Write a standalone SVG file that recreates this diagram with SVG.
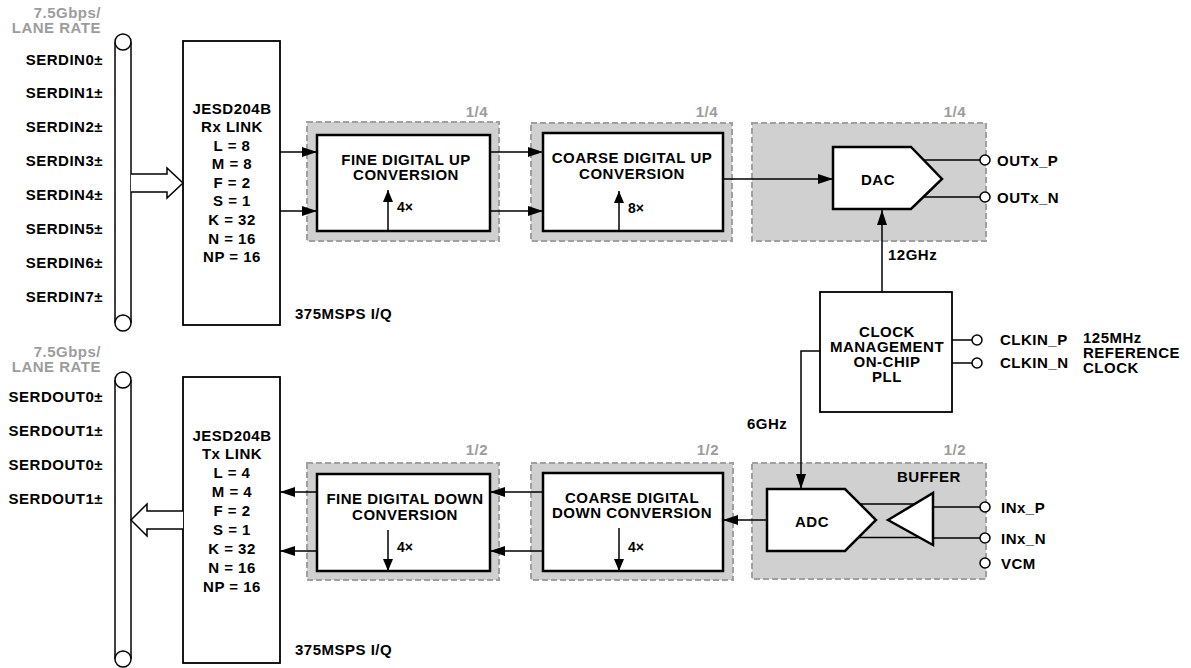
<svg xmlns="http://www.w3.org/2000/svg" width="1191" height="668" viewBox="0 0 1191 668">
<style>
.t{font-family:"Liberation Sans",Arial,sans-serif;font-weight:bold;font-size:15px;letter-spacing:0.5px;fill:#000}
.c{text-anchor:middle}
.e{text-anchor:end}
.g{fill:#9c9c9c}
.s{font-size:14px;letter-spacing:0}
.gb{fill:#d0d0d0;stroke:#a0a0a0;stroke-width:2;stroke-dasharray:6 3}
.wb{fill:#fff;stroke:#000;stroke-width:2.5}
.jb{fill:#fff;stroke:#000;stroke-width:1.8}
.ln{fill:none;stroke:#000;stroke-width:1.5}
.tm{fill:#fff;stroke:#000;stroke-width:1.5}
</style>
<defs>
<marker id="ah" markerWidth="15" markerHeight="10" refX="15" refY="5" orient="auto" markerUnits="userSpaceOnUse"><path d="M0,0 L15,5 L0,10 z" fill="#000"/></marker>
<marker id="ahs" markerWidth="12" markerHeight="10" refX="12" refY="5" orient="auto" markerUnits="userSpaceOnUse"><path d="M0,0 L12,5 L0,10 z" fill="#000"/></marker>
</defs>
<rect width="1191" height="668" fill="#fff"/>

<g id="rx-bus">
<text class="t g e" x="101" y="17.5">7.5Gbps/</text>
<text class="t g e" x="101" y="32.5">LANE RATE</text>
<line class="ln" x1="115" y1="42" x2="115" y2="323"/>
<line class="ln" x1="131" y1="42" x2="131" y2="323"/>
<circle class="tm" cx="123" cy="42" r="8"/>
<circle class="tm" cx="123" cy="323" r="8"/>
<text class="t e" x="103" y="64.5">SERDIN0±</text>
<text class="t e" x="103" y="98.4">SERDIN1±</text>
<text class="t e" x="103" y="132.3">SERDIN2±</text>
<text class="t e" x="103" y="166.2">SERDIN3±</text>
<text class="t e" x="103" y="200">SERDIN4±</text>
<text class="t e" x="103" y="234">SERDIN5±</text>
<text class="t e" x="103" y="268">SERDIN6±</text>
<text class="t e" x="103" y="302">SERDIN7±</text>
</g>

<g id="jesd-rx">
<rect class="jb" x="183" y="41" width="97" height="284"/>
<text class="t c" x="232" y="113.5">JESD204B</text>
<text class="t c" x="232" y="132">Rx LINK</text>
<text class="t c" x="232" y="150.6">L = 8</text>
<text class="t c" x="232" y="169.2">M = 8</text>
<text class="t c" x="232" y="187.8">F = 2</text>
<text class="t c" x="232" y="206.4">S = 1</text>
<text class="t c" x="232" y="225">K = 32</text>
<text class="t c" x="232" y="243.6">N = 16</text>
<text class="t c" x="232" y="262.2">NP = 16</text>
<text class="t" x="295" y="319">375MSPS I/Q</text>
</g>

<g id="fduc">
<rect class="gb" x="307" y="122" width="192" height="119"/>
<text class="t g e" x="488" y="117">1/4</text>
<rect class="wb" x="317" y="135" width="173" height="96"/>
<text class="t c" x="406" y="164.5">FINE DIGITAL UP</text>
<text class="t c" x="406" y="179.5">CONVERSION</text>
<line class="ln" x1="388" y1="231" x2="388" y2="190" marker-end="url(#ahs)"/>
<text class="t s" x="397" y="212">4×</text>
</g>

<g id="cduc">
<rect class="gb" x="531" y="123" width="201" height="118"/>
<text class="t g e" x="718" y="117">1/4</text>
<rect class="wb" x="543" y="133" width="180" height="98"/>
<text class="t c" x="632" y="163">COARSE DIGITAL UP</text>
<text class="t c" x="632" y="178.5">CONVERSION</text>
<line class="ln" x1="619" y1="231" x2="619" y2="191" marker-end="url(#ahs)"/>
<text class="t s" x="628" y="212.5">8×</text>
</g>

<g id="dac">
<rect class="gb" x="752" y="123" width="234" height="118"/>
<text class="t g e" x="966" y="117">1/4</text>
<polygon class="wb" stroke-width="2" points="833,147 911,147 942,179 911,209 833,209"/>
<text class="t c" x="878" y="185">DAC</text>
<circle class="tm" cx="985" cy="160" r="5"/>
<circle class="tm" cx="985" cy="197" r="5"/>
<text class="t" x="997" y="165.5">OUTx_P</text>
<text class="t" x="997" y="202.5">OUTx_N</text>
</g>

<g id="clock">
<rect class="jb" x="820" y="292" width="132" height="120"/>
<text class="t c" x="887" y="337">CLOCK</text>
<text class="t c" x="887" y="352">MANAGEMENT</text>
<text class="t c" x="887" y="367">ON-CHIP</text>
<text class="t c" x="887" y="382">PLL</text>
<circle class="tm" cx="977" cy="340" r="5"/>
<circle class="tm" cx="977" cy="363" r="5"/>
<text class="t" x="1000" y="345">CLKIN_P</text>
<text class="t" x="1000" y="368">CLKIN_N</text>
<text class="t" x="1083" y="342.5">125MHz</text>
<text class="t" x="1083" y="357.5">REFERENCE</text>
<text class="t" x="1083" y="373">CLOCK</text>
</g>

<g id="adc">
<rect class="gb" x="752" y="463" width="234" height="116"/>
<text class="t g e" x="966" y="455">1/2</text>
<text class="t" x="897" y="481.5">BUFFER</text>
<line class="ln" stroke-width="2" x1="855" y1="504" x2="933" y2="504"/>
<line class="ln" stroke-width="2" x1="855" y1="537.5" x2="933" y2="537.5"/>
<polygon class="wb" stroke-width="2" points="767,489 845,489 876,520 845,551 767,551"/>
<text class="t c" x="812" y="527">ADC</text>
<polygon class="wb" stroke-width="2" points="888,520 933,493 933,545"/>
<circle class="tm" cx="985" cy="507" r="5"/>
<circle class="tm" cx="985" cy="538" r="5"/>
<circle class="tm" cx="985" cy="563" r="5"/>
<text class="t" x="1001" y="513">INx_P</text>
<text class="t" x="1001" y="543.5">INx_N</text>
<text class="t" x="1001" y="569">VCM</text>
</g>

<g id="cddc">
<rect class="gb" x="531" y="463" width="202" height="117"/>
<text class="t g e" x="719" y="455">1/2</text>
<rect class="wb" x="543" y="473" width="180" height="98"/>
<text class="t c" x="632" y="502.5">COARSE DIGITAL</text>
<text class="t c" x="632" y="518">DOWN CONVERSION</text>
<line class="ln" x1="619" y1="528" x2="619" y2="571" marker-end="url(#ahs)"/>
<text class="t s" x="628" y="552">4×</text>
</g>

<g id="fddc">
<rect class="gb" x="307" y="463" width="192" height="117"/>
<text class="t g e" x="488" y="455">1/2</text>
<rect class="wb" x="317" y="474" width="173" height="97"/>
<text class="t c" x="405" y="504">FINE DIGITAL DOWN</text>
<text class="t c" x="405" y="520">CONVERSION</text>
<line class="ln" x1="388" y1="530" x2="388" y2="571" marker-end="url(#ahs)"/>
<text class="t s" x="397" y="552">4×</text>
</g>

<g id="jesd-tx">
<rect class="jb" x="183" y="377" width="97" height="286"/>
<text class="t c" x="232" y="440.5">JESD204B</text>
<text class="t c" x="232" y="459.4">Tx LINK</text>
<text class="t c" x="232" y="478.3">L = 4</text>
<text class="t c" x="232" y="497.2">M = 4</text>
<text class="t c" x="232" y="516.1">F = 2</text>
<text class="t c" x="232" y="535">S = 1</text>
<text class="t c" x="232" y="553.9">K = 32</text>
<text class="t c" x="232" y="572.8">N = 16</text>
<text class="t c" x="232" y="591.7">NP = 16</text>
<text class="t" x="295" y="655">375MSPS I/Q</text>
</g>

<g id="tx-bus">
<text class="t g e" x="101" y="356.5">7.5Gbps/</text>
<text class="t g e" x="101" y="371.5">LANE RATE</text>
<line class="ln" x1="115" y1="380" x2="115" y2="659"/>
<line class="ln" x1="131" y1="380" x2="131" y2="659"/>
<circle class="tm" cx="123" cy="380" r="8"/>
<circle class="tm" cx="123" cy="659" r="8"/>
<text class="t e" x="103" y="402">SERDOUT0±</text>
<text class="t e" x="103" y="436">SERDOUT1±</text>
<text class="t e" x="103" y="470">SERDOUT0±</text>
<text class="t e" x="103" y="504">SERDOUT1±</text>
</g>

<g id="connectors">
<path class="tm" d="M131,174 H167 V168 L183,183 L167,198 V192 H131"/>
<path class="tm" d="M183,511 H147 V504 L131,520 L147,536 V529 H183"/>
<line class="ln" x1="280" y1="152" x2="317" y2="152" marker-end="url(#ah)"/>
<line class="ln" x1="280" y1="211" x2="317" y2="211" marker-end="url(#ah)"/>
<line class="ln" x1="490" y1="152" x2="543" y2="152" marker-end="url(#ah)"/>
<line class="ln" x1="490" y1="211" x2="543" y2="211" marker-end="url(#ah)"/>
<line class="ln" x1="723" y1="179" x2="833" y2="179" marker-end="url(#ah)"/>
<line class="ln" stroke-width="2" x1="924" y1="160" x2="980" y2="160"/>
<line class="ln" stroke-width="2" x1="924" y1="197" x2="980" y2="197"/>
<line class="ln" x1="882" y1="292" x2="882" y2="210" marker-end="url(#ah)"/>
<text class="t" x="888" y="260">12GHz</text>
<line class="ln" stroke-width="2" x1="952" y1="340" x2="972" y2="340"/>
<line class="ln" stroke-width="2" x1="952" y1="363" x2="972" y2="363"/>
<path class="ln" d="M820,351 H801 V489" marker-end="url(#ah)"/>
<text class="t" x="747" y="429">6GHz</text>
<line class="ln" stroke-width="2" x1="933" y1="507" x2="980" y2="507"/>
<line class="ln" stroke-width="2" x1="933" y1="538" x2="980" y2="538"/>
<line class="ln" x1="767" y1="520" x2="723" y2="520" marker-end="url(#ah)"/>
<line class="ln" x1="543" y1="492" x2="490" y2="492" marker-end="url(#ah)"/>
<line class="ln" x1="543" y1="551" x2="490" y2="551" marker-end="url(#ah)"/>
<line class="ln" x1="317" y1="492" x2="280" y2="492" marker-end="url(#ah)"/>
<line class="ln" x1="317" y1="551" x2="280" y2="551" marker-end="url(#ah)"/>
</g>
</svg>
